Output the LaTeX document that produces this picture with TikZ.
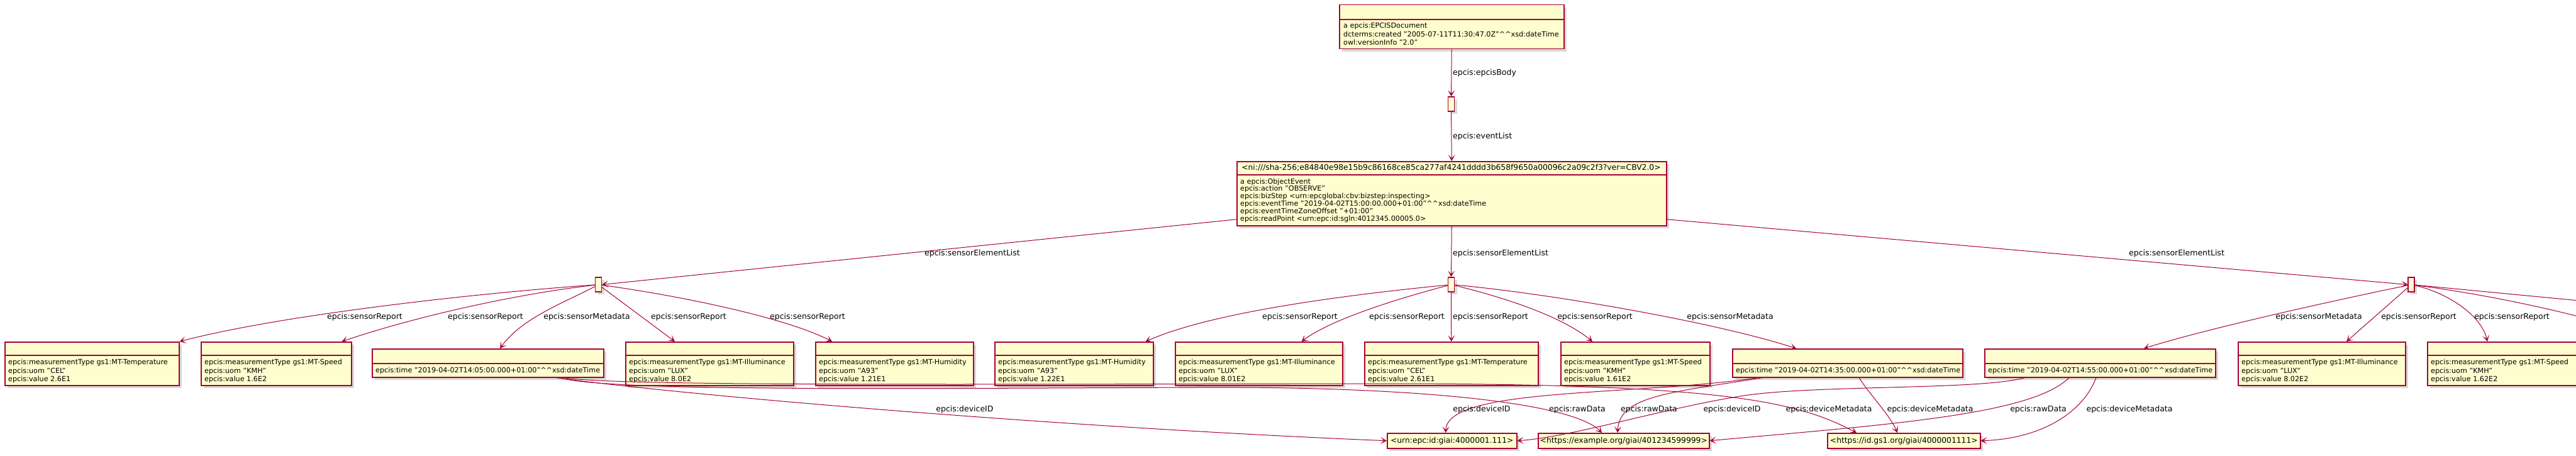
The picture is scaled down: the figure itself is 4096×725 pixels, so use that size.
\documentclass[tikz,border=0pt]{standalone}
\usepackage{fontspec}
\setmainfont{DejaVu Sans}
\usetikzlibrary{arrows.meta,shadows,calc}
\definecolor{umlred}{HTML}{A80036}
\definecolor{umlfill}{HTML}{FEFECE}
\newcommand{\attrf}{\fontsize{11.2}{13.3}\selectfont}
\newcommand{\titlef}{\fontsize{12.3}{14.5}\selectfont}
\newcommand{\lblf}{\fontsize{12.5}{14.5}\selectfont}
\newcommand{\caret}{\textasciicircum\textasciicircum}
\tikzset{
  shad/.style={drop shadow={shadow xshift=4pt,shadow yshift=-4pt,opacity=0.3,fill=black!50}},
  objbox/.style={draw=umlred,fill=umlfill,line width=1.5pt,rectangle,inner sep=0pt,anchor=north west,shad},
  listbox/.style={draw=umlred,fill=umlfill,line width=1.5pt,rectangle,inner sep=0pt,minimum width=10pt,minimum height=23pt,shad},
  divline/.style={draw=umlred,line width=1.5pt},
  attr/.style={anchor=west,inner sep=0pt,font=\attrf},
  ttl/.style={inner sep=0pt,font=\titlef},
  lbl/.style={inner sep=0pt,font=\lblf},
  rel/.style={draw=umlred,line width=1pt,-{Stealth[length=10pt,width=11pt,inset=5.5pt]}},
}
\newcommand{\mtbox}[6]{%
  \node[objbox,minimum width={(#3-#2)*1pt},minimum height=69pt] (#1) at (#2,543) {};
  \draw[divline] (#2,565) -- (#3,565);
  \node[attr] (#1a) at (#2+6,576) {epcis:measurementType gs1:MT-#4};
  \node[attr] (#1b) at (#2+6,590) {epcis:uom "#5"};
  \node[attr] (#1c) at (#2+6,603) {epcis:value #6};
}
\newcommand{\timebox}[4]{%
  \node[objbox,minimum width={(#3-#2)*1pt},minimum height=45pt] (#1) at (#2,554) {};
  \draw[divline] (#2,578) -- (#3,578);
  \node[attr] (#1a) at (#2+6,589) {epcis:time "2019-04-02T#4:00.000+01:00"\caret xsd:dateTime};
}
\newcommand{\urlbox}[4]{%
  \node[objbox,minimum width={(#3-#2)*1pt},minimum height=24pt] (#1) at (#2,688) {};
  \node[ttl] (#1t) at (#1.center) {#4};
}
\begin{document}
\begin{tikzpicture}[x=1pt,y=-1pt]
\useasboundingbox (0,0) rectangle (4096,725);
\clip (0,0) rectangle (4096,725);

% document box
\node[objbox,minimum width=357pt,minimum height=70pt] (doc) at (2129,7) {};
\draw[divline] (2129,31) -- (2486,31);
\node[attr] (doc1) at (2136,41) {a epcis:EPCISDocument};
\node[attr] (doc2) at (2136,54) {dcterms:created "2005-07-11T11:30:47.0Z"\caret xsd:dateTime};
\node[attr] (doc3) at (2136,67) {owl:versionInfo "2.0"};

\node[listbox] (S0) at (2307.5,165.5) {};

% event box
\node[objbox,minimum width=683pt,minimum height=102pt] (main) at (1966,256) {};
\draw[divline] (1966,278) -- (2649,278);
\node[ttl] (mainT) at (2307.5,267) {<ni:///sha-256;e84840e98e15b9c86168ce85ca277af4241dddd3b658f9650a00096c2a09c2f3?ver=CBV2.0>};
\node[attr] (m1) at (1972,289) {a epcis:ObjectEvent};
\node[attr] (m2) at (1972,300.8) {epcis:action "OBSERVE"};
\node[attr] (m3) at (1972,312.6) {epcis:bizStep <urn:epcglobal:cbv:bizstep:inspecting>};
\node[attr] (m4) at (1972,324.4) {epcis:eventTime "2019-04-02T15:00:00.000+01:00"\caret xsd:dateTime};
\node[attr] (m5) at (1972,336.2) {epcis:eventTimeZoneOffset "+01:00"};
\node[attr] (m6) at (1972,348) {epcis:readPoint <urn:epc:id:sgln:4012345.00005.0>};

\node[listbox] (L1) at (951.5,452.5) {};
\node[listbox] (L2) at (2307.5,452.5) {};
\node[listbox] (L3) at (3834,452.5) {};

\mtbox{A}{7}{284}{Temperature}{CEL}{2.6E1}
\mtbox{B}{319}{558}{Speed}{KMH}{1.6E2}
\timebox{C}{591}{959}{14:05}
\mtbox{D}{994}{1261}{Illuminance}{LUX}{8.0E2}
\mtbox{E}{1296}{1547}{Humidity}{A93}{1.21E1}
\mtbox{F}{1581}{1833}{Humidity}{A93}{1.22E1}
\mtbox{G}{1868}{2134}{Illuminance}{LUX}{8.01E2}
\mtbox{H}{2169}{2445}{Temperature}{CEL}{2.61E1}
\mtbox{I}{2481}{2718}{Speed}{KMH}{1.61E2}
\timebox{J}{2754}{3120}{14:35}
\timebox{K}{3155}{3522}{14:55}
\mtbox{M}{3558}{3824}{Illuminance}{LUX}{8.02E2}
\mtbox{N}{3859}{4097}{Speed}{KMH}{1.62E2}

\urlbox{U1}{2205}{2411}{<urn:epc:id:giai:4000001.111>}
\urlbox{U2}{2445}{2717}{<https://example.org/giai/401234599999>}
\urlbox{U3}{2905}{3148}{<https://id.gs1.org/giai/4000001111>}

% top connectors
\draw[rel] (doc.south) -- (S0.north);
\node[lbl,anchor=west] (lb1) at (2310,116) {epcis:epcisBody};
\draw[rel] (S0.south) -- (main.north);
\node[lbl,anchor=west] (lb2) at (2310,217) {epcis:eventList};

\draw[rel] ([yshift=-41pt]main.west) -- (L1.east);
\draw[rel] (main.south) -- (L2.north);
\draw[rel] ([yshift=-41pt]main.east) -- (L3.west);
\node[lbl] (lb3) at (1546,403) {epcis:sensorElementList};
\node[lbl,anchor=west] (lb4) at (2310,403) {epcis:sensorElementList};
\node[lbl] (lb5) at (3461,403) {epcis:sensorElementList};

% from L1
\draw[rel] (L1) .. controls (760,466) and (450,500) .. (A.north east);
\draw[rel] (L1) .. controls (800,470) and (640,510) .. ([xshift=-16pt]B.north east);
\draw[rel] (L1) .. controls (900,480) and (830,505) .. ([xshift=204pt]C.north west);
\draw[rel] (L1) -- ([xshift=79pt]D.north west);
\draw[rel] (L1) .. controls (1080,470) and (1250,505) .. ([xshift=27pt]E.north west);
\node[lbl] (lb6) at (580,504) {epcis:sensorReport};
\node[lbl] (lb7) at (772,504) {epcis:sensorReport};
\node[lbl] (lb8) at (933,504) {epcis:sensorMetadata};
\node[lbl] (lb9) at (1095,504) {epcis:sensorReport};
\node[lbl] (lb10) at (1284,504) {epcis:sensorReport};

% from L2
\draw[rel] (L2) .. controls (2150,468) and (1930,495) .. ([xshift=-13pt]F.north east);
\draw[rel] (L2) .. controls (2240,470) and (2120,505) .. ([xshift=-66pt]G.north east);
\draw[rel] (L2) -- (H.north);
\draw[rel] (L2) .. controls (2380,470) and (2480,500) .. ([xshift=51pt]I.north west);
\draw[rel] (L2) .. controls (2450,465) and (2720,510) .. ([xshift=102pt]J.north west);
\node[lbl] (lb11) at (2067,504) {epcis:sensorReport};
\node[lbl] (lb12) at (2237,504) {epcis:sensorReport};
\node[lbl,anchor=west] (lb13) at (2310,504) {epcis:sensorReport};
\node[lbl] (lb14) at (2536,504) {epcis:sensorReport};
\node[lbl] (lb15) at (2751,504) {epcis:sensorMetadata};

% from L3
\coordinate (off1) at (4300,497);
\coordinate (off2) at (4200,530);
\draw[rel] (L3) .. controls (3700,480) and (3500,525) .. ([xshift=254pt]K.north west);
\draw[rel] (L3) -- ([xshift=173pt]M.north west);
\draw[rel] (L3) .. controls (3890,465) and (3945,500) .. ([xshift=96pt]N.north west);
\draw[rel] (L3) -- (off1);
\draw[rel] (L3) .. controls (3950,468) and (4060,490) .. (off2);
\node[lbl] (lb16) at (3687,504) {epcis:sensorMetadata};
\node[lbl] (lb17) at (3846,504) {epcis:sensorReport};
\node[lbl] (lb18) at (3994,504) {epcis:sensorReport};

% bottom connectors
\draw[rel] ([xshift=293pt]C.south west) .. controls (1100,630) and (1700,680) .. (U1.west);
\draw[rel] ([xshift=299pt]C.south west) .. controls (960,622) and (1400,618) .. (1900,616) .. controls (2250,614) and (2500,640) .. ([xshift=102pt]U2.north west);
\draw[rel] ([xshift=305pt]C.south west) .. controls (980,614) and (1500,611) .. (2200,610) .. controls (2750,610) and (2860,640) .. ([xshift=47pt]U3.north west);
\draw[rel] ([xshift=41pt]J.south west) .. controls (2600,630) and (2300,615) .. ([xshift=-10pt]U1.north);
\draw[rel] ([xshift=49pt]J.south west) .. controls (2650,625) and (2575,630) .. ([xshift=127pt]U2.north west);
\draw[rel] ([xshift=202pt]J.south west) .. controls (2975,630) and (3005,660) .. ([xshift=112pt]U3.north west);
\draw[rel] ([xshift=65pt]K.south west) .. controls (3150,620) and (2900,612) .. (2780,628) .. controls (2660,645) and (2500,695) .. (U1.east);
\draw[rel] ([xshift=135pt]K.south west) .. controls (3230,660) and (3000,675) .. (U2.east);
\draw[rel] ([xshift=178pt]K.south west) .. controls (3310,660) and (3240,698) .. (U3.east);
\node[lbl] (lb19) at (1534,651) {epcis:deviceID};
\node[lbl] (lb20) at (2356,651) {epcis:deviceID};
\node[lbl] (lb21) at (2508,651) {epcis:rawData};
\node[lbl] (lb22) at (2622,651) {epcis:rawData};
\node[lbl] (lb23) at (2754,651) {epcis:deviceID};
\node[lbl] (lb24) at (2908,651) {epcis:deviceMetadata};
\node[lbl] (lb25) at (3069,651) {epcis:deviceMetadata};
\node[lbl] (lb26) at (3241,651) {epcis:rawData};
\node[lbl] (lb27) at (3386,651) {epcis:deviceMetadata};
\end{tikzpicture}
\end{document}
